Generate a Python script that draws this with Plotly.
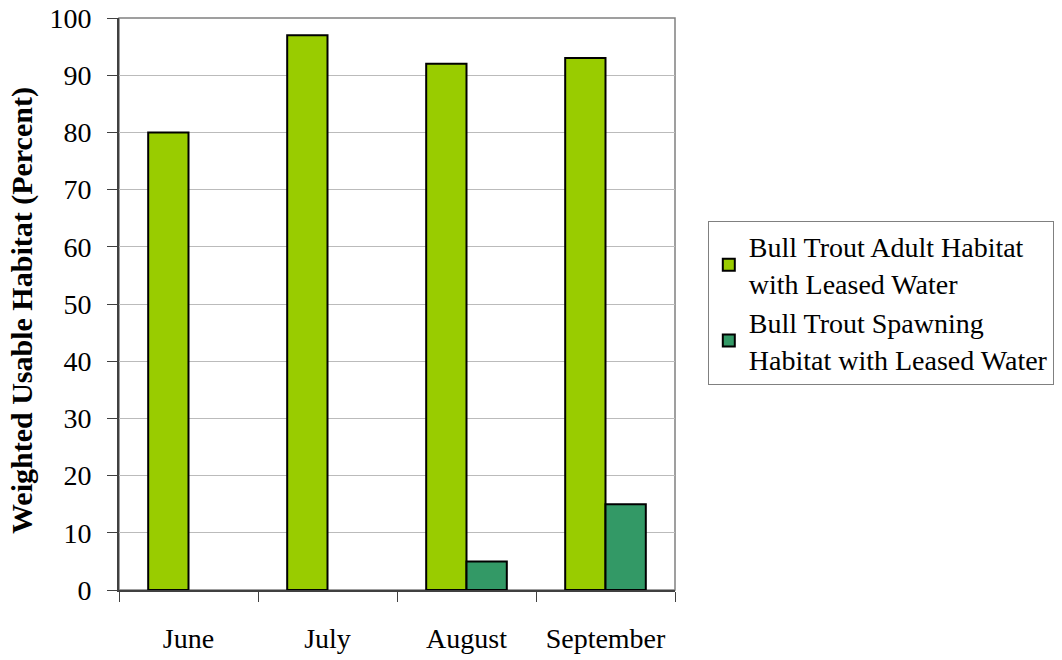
import plotly.graph_objects as go

months = ["June", "July", "August", "September"]
adult = [80, 97, 92, 93]
spawning = [0, 0, 5, 15]
adult_name = "Bull Trout Adult Habitat<br>with Leased Water"
spawn_name = "Bull Trout Spawning<br>Habitat with Leased Water"
y_title = "Weighted Usable Habitat (Percent)"
y_ticks = list(range(0, 101, 10))

FONT = "Liberation Serif, Times New Roman, serif"

def outline(vals):
    return [2 if v > 0 else 0 for v in vals]

fig = go.Figure()
fig.add_trace(go.Bar(x=months, y=adult, name=adult_name,
                     marker=dict(color="#99CC00", line=dict(color="#000000", width=outline(adult)))))
fig.add_trace(go.Bar(x=months, y=spawning, name=spawn_name,
                     marker=dict(color="#339966", line=dict(color="#000000", width=outline(spawning)))))

fig.update_layout(
    width=1062, height=660,
    margin=dict(l=119, r=387, t=18, b=70, autoexpand=False),
    paper_bgcolor="white", plot_bgcolor="white",
    barmode="group", bargap=0.42, bargroupgap=0,
    font=dict(family=FONT, size=28, color="#000000"),
    showlegend=True,
    legend=dict(x=1.059, y=0.502, xanchor="left", yanchor="middle",
                bordercolor="#808080", borderwidth=1,
                font=dict(family=FONT, size=28, color="#000000"),
                tracegroupgap=6, itemsizing="constant"),
    shapes=[dict(type="rect", xref="paper", yref="paper", x0=0, x1=1, y0=0, y1=1,
                 line=dict(color="#808080", width=1.5), layer="below")],
    annotations=[dict(text="<b>" + y_title + "</b>", textangle=-90,
                      xref="paper", yref="paper", x=-0.1745, y=0.4895,
                      xanchor="center", yanchor="middle", showarrow=False,
                      font=dict(family=FONT, size=30, color="#000000"))],
)
fig.update_xaxes(
    type="category", showline=True, linecolor="#404040", linewidth=1.5,
    ticks="outside", tickson="boundaries", ticklen=10, tickcolor="#404040",
    showgrid=False, ticklabelstandoff=23, automargin=False,
    tickfont=dict(family=FONT, size=28),
)
fig.update_yaxes(
    range=[0, 100], tickvals=y_ticks, showline=True, linecolor="#404040", linewidth=2,
    ticks="outside", ticklen=10, tickcolor="#404040",
    showgrid=True, gridcolor="#BBBBBB", gridwidth=1, zeroline=False,
    ticklabelstandoff=10, automargin=False,
    tickfont=dict(family=FONT, size=28),
)

fig.write_html("out.html", config={"displayModeBar": False},
               post_script="document.body.style.margin='0';document.body.style.overflow='hidden';")
